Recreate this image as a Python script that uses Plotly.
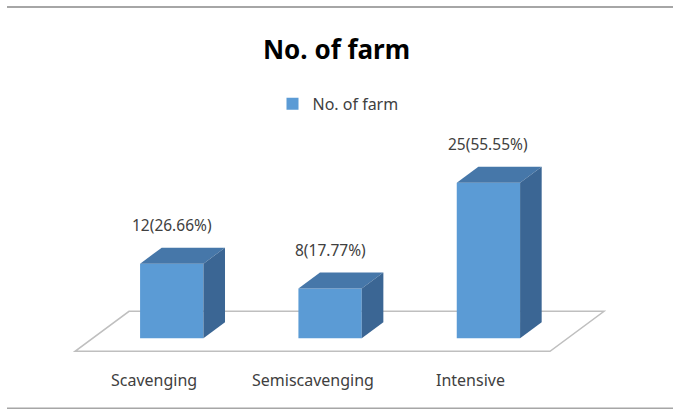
import plotly.graph_objects as go

# Chart data
categories = ["Scavenging", "Semiscavenging", "Intensive"]
farms = [12, 8, 25]
shares = ["26.66%", "17.77%", "55.55%"]
series_name = "No. of farm"

# Styling / pseudo-3D geometry (axis units)
FRONT = "#5b9bd5"
TOP = "#4677a9"
SIDE = "#3b6694"
FONT = "Noto Sans"
TEXT = "#404040"
BAR_W = 0.4
# full floor depth vector, expressed in x/y axis units
DEPTH_X, DEPTH_Y = 0.341, 6.43
BAR_T0, BAR_T1 = 0.325, 0.725   # bar spans this fraction of the floor depth
bdx = (BAR_T1 - BAR_T0) * DEPTH_X
bdy = (BAR_T1 - BAR_T0) * DEPTH_Y
fdx0, fdy0 = -BAR_T0 * DEPTH_X, -BAR_T0 * DEPTH_Y            # floor front edge
fdx1, fdy1 = (1 - BAR_T0) * DEPTH_X, (1 - BAR_T0) * DEPTH_Y  # floor back edge

xpos = list(range(len(categories)))
fl, fr = xpos[0] - 0.5, xpos[-1] + 0.5

fig = go.Figure()

# front faces
fig.add_trace(go.Bar(
    x=xpos, y=farms, width=BAR_W, name=series_name,
    marker=dict(color=FRONT, line=dict(width=0)),
    hoverinfo="skip",
))

# top and side faces
for x, v in zip(xpos, farms):
    l, r = x - BAR_W / 2, x + BAR_W / 2
    fig.add_trace(go.Scatter(
        x=[l, r, r + bdx, l + bdx, l], y=[v, v, v + bdy, v + bdy, v],
        fill="toself", fillcolor=TOP, mode="lines", line=dict(width=0),
        showlegend=False, hoverinfo="skip"))
    fig.add_trace(go.Scatter(
        x=[r, r + bdx, r + bdx, r, r], y=[0, bdy, v + bdy, v, 0],
        fill="toself", fillcolor=SIDE, mode="lines", line=dict(width=0),
        showlegend=False, hoverinfo="skip"))

# floor plane behind the bars
floor_path = (f"M {fl + fdx0},{fdy0} L {fr + fdx0},{fdy0} "
              f"L {fr + fdx1},{fdy1} L {fl + fdx1},{fdy1} Z")
shapes = [dict(type="path", path=floor_path, xref="x", yref="y", layer="below",
               line=dict(color="#bfbfbf", width=1.5), fillcolor="white")]

# outer frame lines
for yy in (1.5625, -0.2300):
    shapes.append(dict(type="line", xref="paper", yref="paper",
                       x0=-0.0807, x1=1.09, y0=yy, y1=yy,
                       line=dict(color="#a6a6a6", width=2)))

annotations = []
for x, v, p in zip(xpos, farms, shares):
    annotations.append(dict(x=x, y=v, xref="x", yref="y", text=f"{v}({p})",
                            showarrow=False, yshift=39, yanchor="middle",
                            font=dict(family=FONT, size=15.5, color=TEXT)))
for x, c in zip(xpos, categories):
    annotations.append(dict(x=x + fdx0, y=fdy0, xref="x", yref="y", text=c,
                            showarrow=False, yshift=-29, yanchor="middle",
                            font=dict(family=FONT, size=16, color=TEXT)))

fig.update_layout(
    width=673, height=409,
    margin=dict(l=53, r=50, t=133, b=52),
    paper_bgcolor="white", plot_bgcolor="white",
    title=dict(text="<b>No. of farm</b>", x=0.5, xanchor="center",
               y=0.878, yanchor="middle",
               font=dict(family=FONT, size=26, color="#000000")),
    legend=dict(orientation="h", x=0.5, xanchor="center", y=1.13, yanchor="middle",
                font=dict(family=FONT, size=16, color=TEXT)),
    xaxis=dict(range=[-0.75, 2.85], visible=False, fixedrange=True),
    yaxis=dict(range=[-3, 33], visible=False, fixedrange=True),
    shapes=shapes, annotations=annotations, showlegend=True,
)

fig.write_html("out.html")
